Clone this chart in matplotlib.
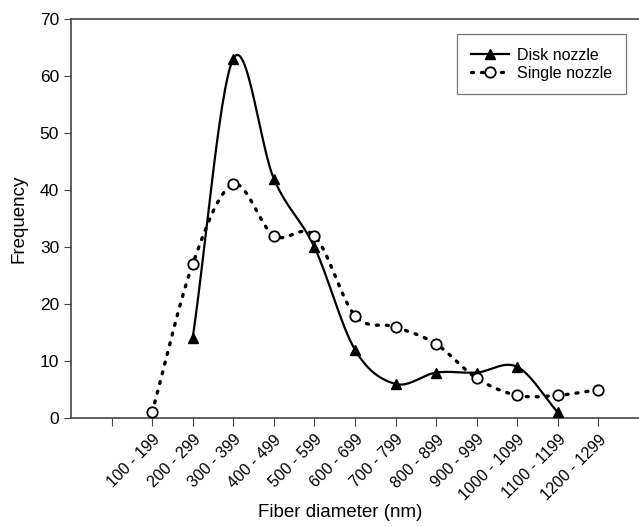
import numpy as np
import matplotlib
matplotlib.use("Agg")
import matplotlib.pyplot as plt

plt.rcParams["font.family"] = ["Liberation Sans", "DejaVu Sans"]

# category labels; first tick position is left blank in the original
bins = ["100 - 199", "200 - 299", "300 - 399", "400 - 499", "500 - 599",
        "600 - 699", "700 - 799", "800 - 899", "900 - 999", "1000 - 1099",
        "1100 - 1199", "1200 - 1299"]

disk_bins = bins[1:11]
disk_freq = [14, 63, 42, 30, 12, 6, 8, 8, 9, 1]

single_bins = bins
single_freq = [1, 27, 41, 32, 32, 18, 16, 13, 7, 4, 4, 5]


def smooth(x, y, n=30, t=0.5):
    """Catmull-Rom style curve through the points (like Excel's smoothed line)."""
    x = np.asarray(x, float)
    y = np.asarray(y, float)
    px = np.concatenate([[2 * x[0] - x[1]], x, [2 * x[-1] - x[-2]]])
    py = np.concatenate([[2 * y[0] - y[1]], y, [2 * y[-1] - y[-2]]])
    xs, ys = [], []
    for i in range(1, len(px) - 2):
        p0, p1, p2, p3 = (np.array([px[j], py[j]]) for j in range(i - 1, i + 3))
        c1 = p1 + (p2 - p0) * t / 3
        c2 = p2 - (p3 - p1) * t / 3
        s = np.linspace(0, 1, n)[:, None]
        pts = ((1 - s) ** 3) * p1 + 3 * ((1 - s) ** 2) * s * c1 + 3 * (1 - s) * s ** 2 * c2 + s ** 3 * p2
        xs.append(pts[:, 0])
        ys.append(pts[:, 1])
    return np.concatenate(xs), np.concatenate(ys)


pos = {b: i + 2 for i, b in enumerate(bins)}
dx = [pos[b] for b in disk_bins]
sx = [pos[b] for b in single_bins]

fig = plt.figure(figsize=(6.39, 5.26), dpi=100)
ax = fig.add_axes([0.111, 0.205, 0.889, 0.759])

dots = (0, (0.6, 2.4))

cx, cy = smooth(dx, disk_freq)
ax.plot(cx, cy, color="black", lw=1.6, zorder=2)
ax.plot(dx, disk_freq, ls="none", marker="^", ms=7, color="black", zorder=3)

cx, cy = smooth(sx, single_freq)
ax.plot(cx, cy, color="black", lw=2.4, ls=dots, dash_capstyle="round", zorder=2)
ax.plot(sx, single_freq, ls="none", marker="o", ms=7.5, mfc="white", mec="black", mew=1.3, zorder=3)

# legend proxies
ax.plot([], [], color="black", lw=1.6, marker="^", ms=7, label="Disk nozzle")
ax.plot([], [], color="black", lw=2.4, ls=dots, dash_capstyle="round", marker="o", ms=7.5,
        mfc="white", mec="black", mew=1.3, label="Single nozzle")
h, l = ax.get_legend_handles_labels()
leg = ax.legend(h, l, loc="upper right", bbox_to_anchor=(0.977, 0.962), fontsize=11.5,
                frameon=True, fancybox=False, edgecolor="#555555", handlelength=2.4,
                handletextpad=0.5, borderpad=0.85, labelspacing=0.2, borderaxespad=0)
leg.get_frame().set_linewidth(0.9)

ax.set_xlim(0, 14)
ax.set_ylim(0, 70)
ax.set_xticks(range(1, 14))
ax.set_xticklabels([""] + bins, rotation=45, ha="right", rotation_mode="anchor", fontsize=11.5)
ax.set_yticks(range(0, 71, 10))
ax.tick_params(axis="y", labelsize=12.5, length=5, color="#444444")
ax.tick_params(axis="x", length=6, color="#444444", pad=4)
ax.spines["right"].set_visible(False)
for s in ["left", "bottom", "top"]:
    ax.spines[s].set_color("#444444")
    ax.spines[s].set_linewidth(1.2)

ax.set_xlabel("Fiber diameter (nm)", fontsize=13.5, va="center")
ax.xaxis.set_label_coords(0.474, -0.236)
ax.set_ylabel("Frequency", fontsize=13.5, labelpad=9)

fig.savefig("out.png", dpi=100)
